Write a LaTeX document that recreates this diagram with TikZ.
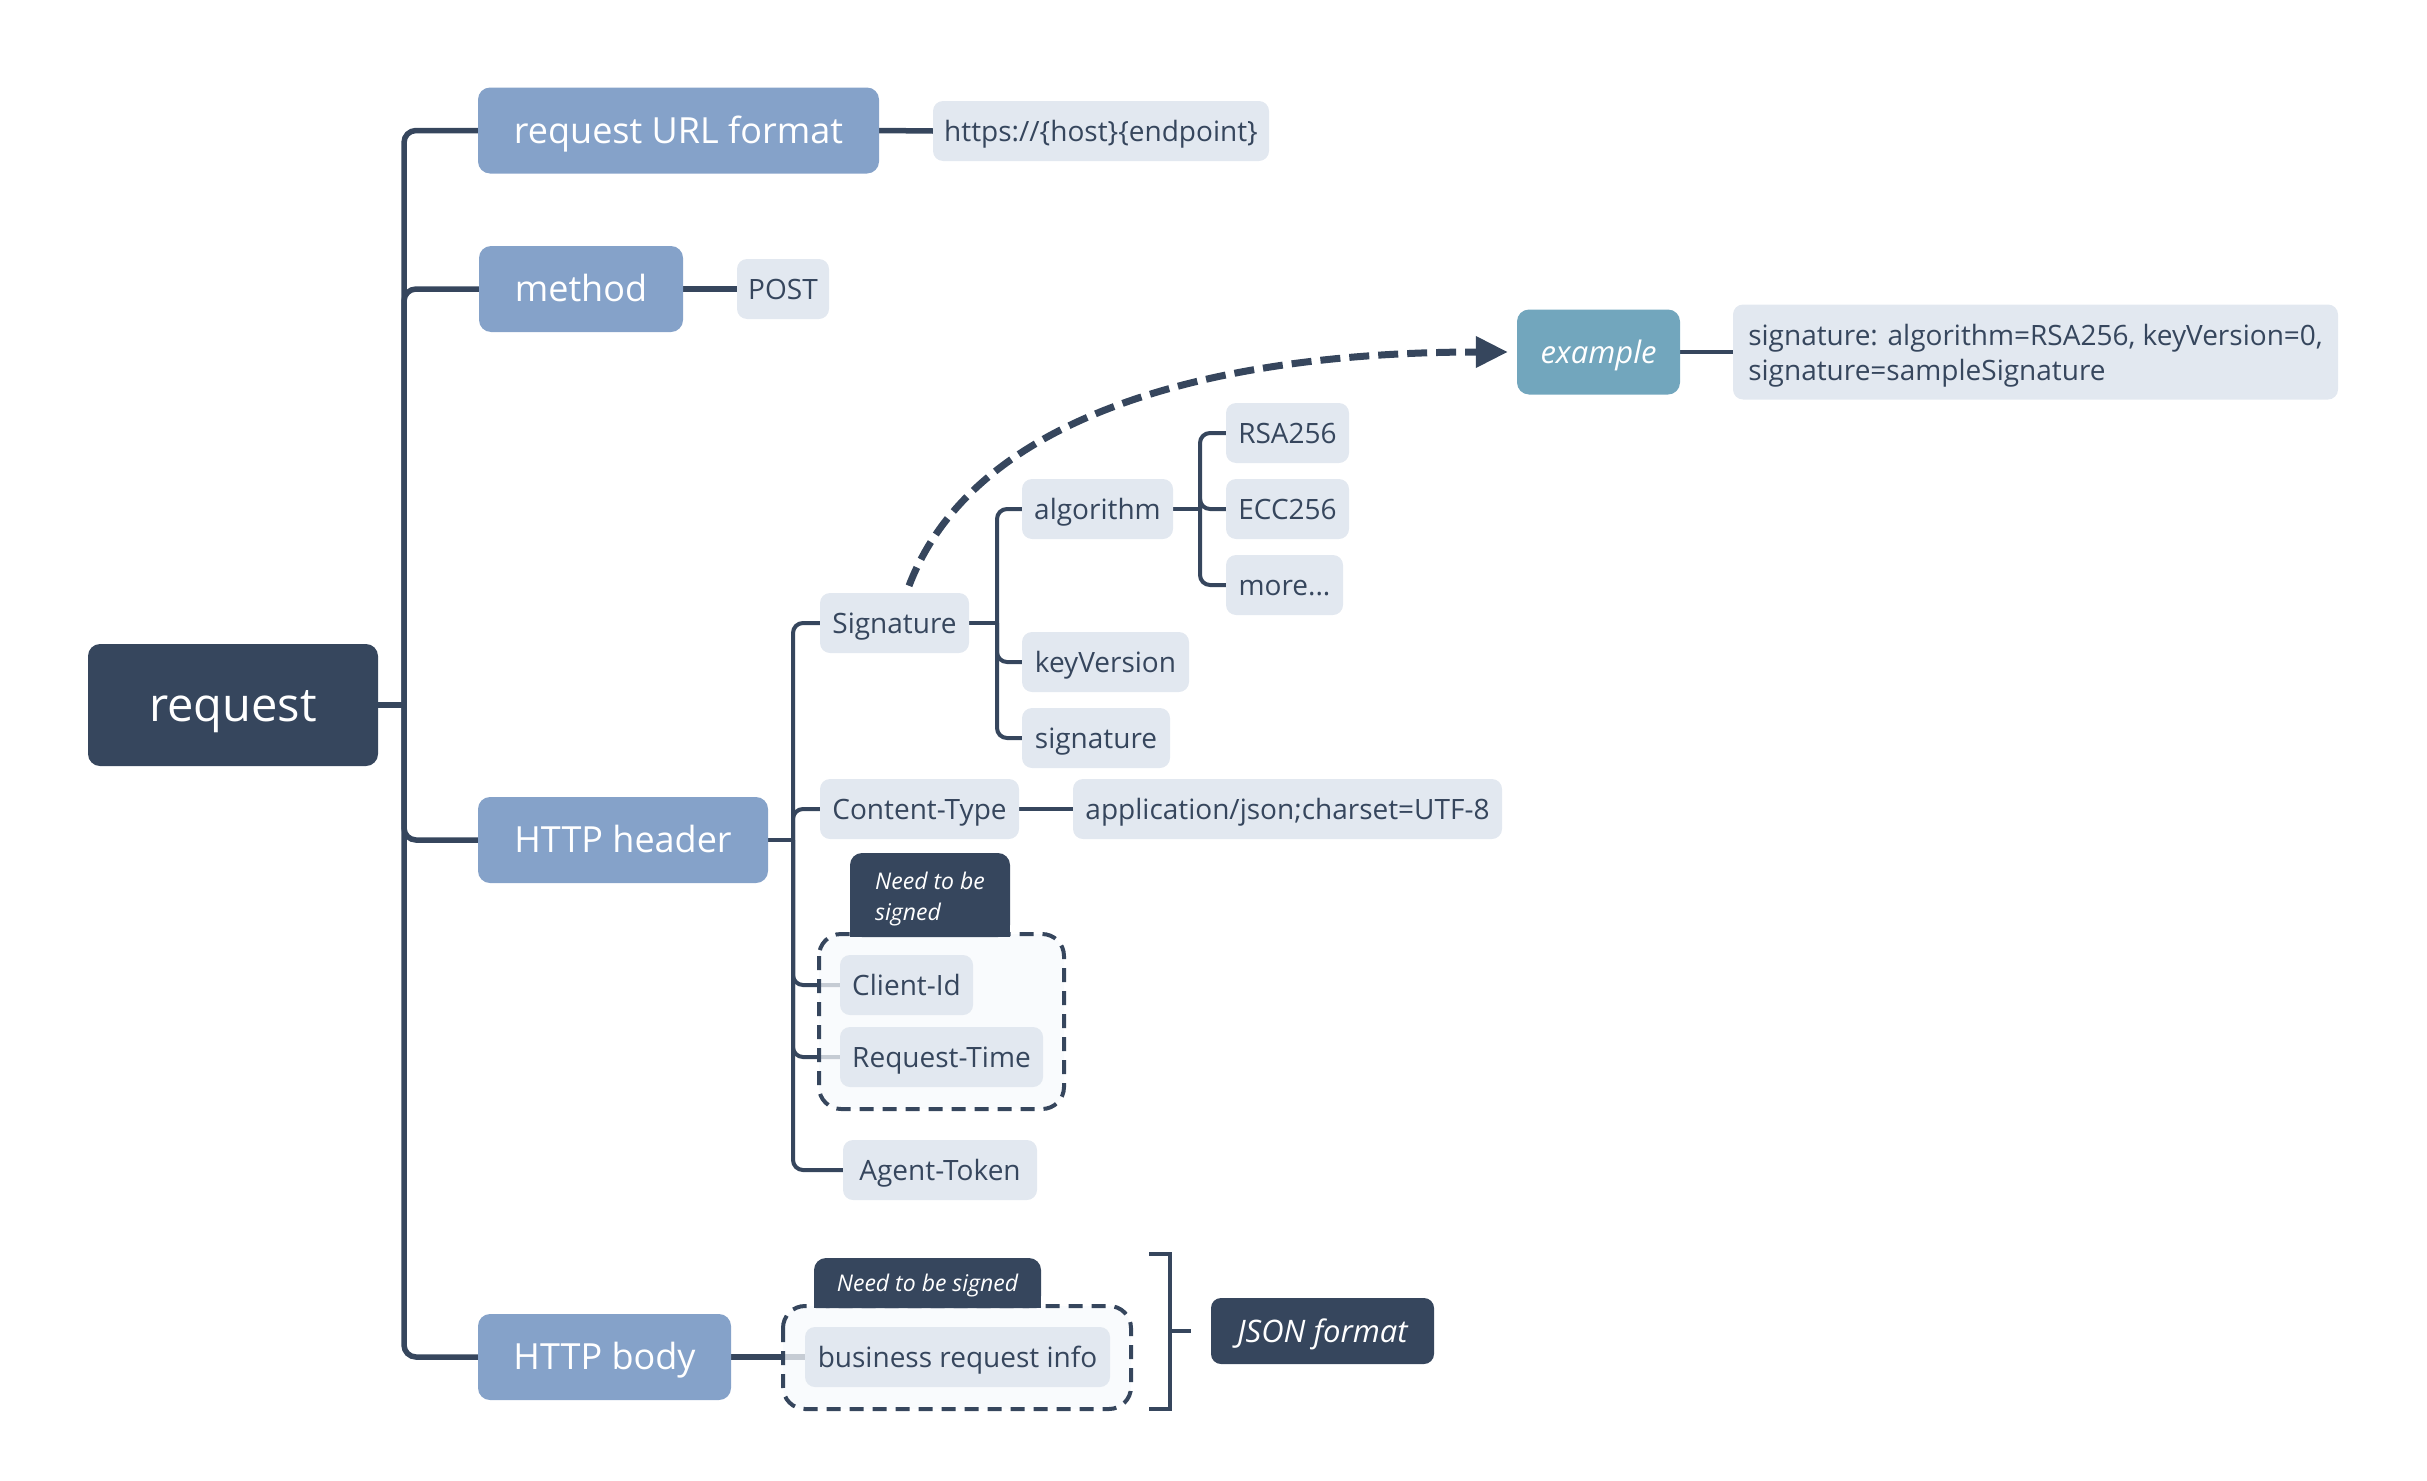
\documentclass[tikz,border=0pt]{standalone}
\usepackage{fontspec}
\setmainfont{Open Sans}
\usetikzlibrary{arrows.meta}
\definecolor{navy}{HTML}{36465D}
\definecolor{secc}{HTML}{85A2C9}
\definecolor{leafc}{HTML}{E2E8F0}
\definecolor{exc}{HTML}{72A6BD}
\definecolor{contc}{HTML}{F7F9FC}
\pgfdeclarelayer{bg}\pgfdeclarelayer{mid}\pgfsetlayers{bg,mid,main}
\newcommand{\twolines}[2]{\raisebox{-4pt}[\height][\depth]{\begin{tabular}{@{}l@{}}#1\\#2\end{tabular}}}
\tikzset{
  rootbox/.style={fill=navy, text=white, rounded corners=12pt, inner sep=0pt,
    font=\fontsize{47}{56}\selectfont, text height=43.2pt, text depth=9.4pt,
    minimum width=290pt, minimum height=122pt},
  secbox/.style={fill=secc, text=white, rounded corners=12pt, inner sep=0pt,
    font=\fontsize{36}{44}\selectfont, text height=33.1pt, text depth=7.2pt,
    minimum height=86pt},
  leafbox/.style={fill=leafc, text=navy, rounded corners=10pt, inner sep=0pt,
    font=\fontsize{28}{35}\selectfont, text height=25.8pt, text depth=5.6pt,
    minimum height=60pt},
  leafmulti/.style={fill=leafc, text=navy, rounded corners=10pt, inner sep=0pt,
    font=\fontsize{28}{35}\selectfont},
  darkbox/.style={fill=navy, text=white, rounded corners=10pt, inner sep=0pt,
    font=\fontsize{31}{38}\selectfont\itshape, text height=28.5pt, text depth=6.2pt},
  exbox/.style={fill=exc, text=white, rounded corners=12pt, inner sep=0pt,
    font=\fontsize{31}{38}\selectfont\itshape, text height=28.5pt, text depth=6.2pt},
  tabbox/.style={fill=navy, text=white, rounded corners=12pt, inner sep=0pt,
    font=\fontsize{23}{31}\selectfont\itshape},
  trunkline/.style={draw=navy, line width=5.5pt, rounded corners=12pt},
  subline/.style={draw=navy, line width=4pt, rounded corners=10pt},
  groupbox/.style={draw=navy, line width=4pt, dash pattern=on 14pt off 9pt,
    fill=contc, fill opacity=0.75, draw opacity=1, rounded corners=22pt},
}
\begin{document}
\begin{tikzpicture}[x=1pt,y=-1pt]
\useasboundingbox (0,0) rectangle (2427,1480);
% root and main branches
\node[rootbox] (root) at (233,705) {request};
\node[secbox, minimum width=401pt] (url) at (678.5,130.5) {request URL format};
\node[secbox, minimum width=204pt] (method) at (581,289) {method};
\node[secbox, minimum width=290pt] (header) at (623,840) {HTTP header};
\node[secbox, minimum width=253pt] (body) at (604.5,1357) {HTTP body};
% leaves of url/method
\node[leafbox, minimum width=336pt] (urltext) at (1101,131) {https://\{host\}\{endpoint\}};
\node[leafbox, minimum width=92pt] (post) at (783,289) {POST};
% header children
\node[leafbox, minimum width=149pt] (sig) at (894.5,623) {Signature};
\node[leafbox, minimum width=151pt] (algo) at (1097.5,509) {algorithm};
\node[leafbox, minimum width=167pt] (keyv) at (1105.5,662) {keyVersion};
\node[leafbox, minimum width=148pt] (sigv) at (1096,738) {signature};
\node[leafbox, minimum width=123pt] (rsa) at (1287.5,433) {RSA256};
\node[leafbox, minimum width=123pt] (ecc) at (1287.5,509) {ECC256};
\node[leafbox, minimum width=117pt] (more) at (1284.5,585) {more...};
\node[exbox, minimum width=163pt, minimum height=85pt] (ex) at (1598.5,352) {example};
\node[leafmulti, minimum width=605pt, minimum height=95pt] (extext) at (2035.5,352)
  {\twolines{signature: algorithm=RSA256, keyVersion=0,}{signature=sampleSignature}};
\node[leafbox, minimum width=199pt] (ctype) at (919.5,809) {Content-Type};
\node[leafbox, minimum width=429pt] (json) at (1287.5,809) {application/json;charset=UTF-8};
\node[tabbox, minimum width=160pt, minimum height=84pt] (tab1) at (930,895)
  {\twolines{Need to be}{signed}\hspace{24pt}};
\node[leafbox, minimum width=133pt] (cid) at (906.5,985) {Client-Id};
\node[leafbox, minimum width=203pt] (rtime) at (941.5,1057) {Request-Time};
\node[leafbox, minimum width=194pt] (atok) at (940,1170) {Agent-Token};
% body children
\node[tabbox, minimum width=227pt, minimum height=50pt, text height=21.2pt, text depth=4.6pt] (tab2) at (927.5,1283) {Need to be signed};
\node[leafbox, minimum width=305pt] (biz) at (957.5,1357) {business request info};
\node[darkbox, minimum width=223pt, minimum height=66pt] (jsonf) at (1322.5,1331) {JSON format};
% group containers and square tab bottoms
\begin{pgfonlayer}{mid}
\path[groupbox] (819,934) rectangle (1064,1109);
\path[groupbox] (783,1306) rectangle (1131,1409);
\fill[navy] (tab1.south west) rectangle ([yshift=16pt]tab1.south east);
\fill[navy] (tab2.south west) rectangle ([yshift=16pt]tab2.south east);
\end{pgfonlayer}
% connectors
\begin{pgfonlayer}{bg}
\coordinate (tj) at (404,705);
\draw[trunkline] (root.east) -- (tj);
\foreach \c in {url,method,header,body} \draw[trunkline] (tj) |- (\c.west);
\draw[trunkline] (url.east) -- (urltext.west);
\draw[trunkline] (method.east) -- (post.west);
\draw[trunkline] (body.east) -- (biz.west);
\coordinate (hj) at (793,840);
\draw[subline] (header.east) -- (hj);
\foreach \c in {sig,ctype,cid,rtime,atok} \draw[subline] (hj) |- (\c.west);
\coordinate (sj) at (997,623);
\draw[subline] (sig.east) -- (sj);
\foreach \c in {algo,keyv,sigv} \draw[subline] (sj) |- (\c.west);
\coordinate (aj) at (1200,509);
\draw[subline] (algo.east) -- (aj);
\foreach \c in {rsa,ecc,more} \draw[subline] (aj) |- (\c.west);
\draw[subline] (ctype.east) -- (json.west);
\draw[subline] (ex.east) -- (extext.west);
\end{pgfonlayer}
% bracket
\coordinate (bt) at (1149,1254);
\coordinate (bb) at (1149,1409);
\coordinate (bm) at (1170,1331);
\draw[navy, line width=4pt] (bt) -- ++(21,0) -- (1170,1409) -- (bb);
\draw[navy, line width=4pt] (bm) -- ([xshift=-20pt]jsonf.west);
% dashed arrow
\draw[navy, line width=7pt, dash pattern=on 20pt off 9pt, -{Triangle[length=32pt,width=30pt]}]
  ([xshift=14.5pt,yshift=7pt]sig.north) .. controls (980,400) and (1250,352) .. ([xshift=-9pt]ex.west);
\end{tikzpicture}
\end{document}
